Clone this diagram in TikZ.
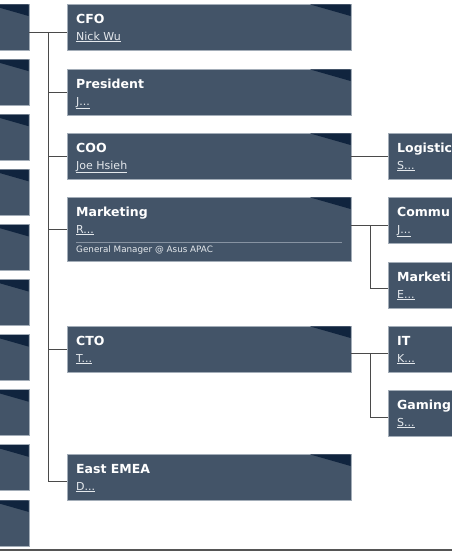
\documentclass[tikz,border=0pt]{standalone}
\usepackage{fontspec}
\setmainfont{DejaVu Sans}
\usetikzlibrary{calc}
\definecolor{boxfill}{HTML}{435468}
\definecolor{boxedge}{HTML}{A3ADB8}
\definecolor{wedgecol}{HTML}{10243E}
\definecolor{linkcol}{HTML}{4A4A4A}
\definecolor{namecol}{HTML}{E4E8EC}
\definecolor{sepcol}{HTML}{8793A2}
\definecolor{basecol}{HTML}{555555}
\tikzset{
  orgbox/.style={rectangle, draw=boxedge, fill=boxfill, line width=0.8pt, anchor=north west, inner sep=0pt, outer sep=0pt, minimum height=46pt},
  mainbox/.style={orgbox, minimum width=284pt},
  sidebox/.style={orgbox, minimum width=100pt},
  stubbox/.style={orgbox, minimum width=49pt},
  titletext/.style={anchor=base west, inner sep=0pt, text=white, font=\bfseries\fontsize{12.5}{14}\selectfont},
  nametext/.style={anchor=base west, inner sep=0pt, text=namecol, font=\fontsize{11}{13}\selectfont},
  subtext/.style={anchor=base west, inner sep=0pt, text=namecol, font=\fontsize{8.8}{10}\selectfont},
  link/.style={draw=linkcol, line width=1pt},
  sepline/.style={draw=sepcol, line width=0.8pt},
  wedgefill/.style={fill=wedgecol},
}
\newcommand\cornerwedge[1]{\fill[wedgefill] ($(#1.north east)+(-41,0.4)$) -- ($(#1.north east)+(-0.4,0.4)$) -- ($(#1.north east)+(-0.4,12)$) -- cycle;}
\newcommand\boxtexts[3]{%
  \node[titletext] (#1-t) at ($(#1.north west)+(9,19)$) {#2};
  \node[nametext] (#1-n) at ($(#1.north west)+(9,36)$) {\underline{#3}};}
\begin{document}
\begin{tikzpicture}[x=1pt, y=-1pt]
\useasboundingbox (0,0) rectangle (452,552);
\clip (0,0) rectangle (452,552);
\fill[white] (0,0) rectangle (452,552);

% left stub boxes
\foreach \i/\y in {1/4,2/59.1,3/114.2,4/169.3,5/224.4,6/279.5,7/334.6,8/389.7,9/444.8,10/499.9}{
  \node[stubbox] (L\i) at (-20,\y) {};
  \cornerwedge{L\i}
}

% main column
\node[mainbox] (cfo) at (67,4) {};
\node[mainbox] (pres) at (67,69) {};
\node[mainbox] (coo) at (67,133) {};
\node[mainbox, minimum height=64pt] (mkt) at (67,197) {};
\node[mainbox] (cto) at (67,326) {};
\node[mainbox] (east) at (67,454) {};
\foreach \n in {cfo,pres,coo,mkt,cto,east}{\cornerwedge{\n}}

% right column
\node[sidebox] (logi) at (388,133) {};
\node[sidebox] (commu) at (388,197) {};
\node[sidebox] (mkti) at (388,262) {};
\node[sidebox] (it) at (388,326) {};
\node[sidebox] (gaming) at (388,390) {};

% texts
\boxtexts{cfo}{CFO}{Nick Wu}
\boxtexts{pres}{President}{J...}
\boxtexts{coo}{COO}{Joe Hsieh}
\boxtexts{mkt}{Marketing}{R...}
\boxtexts{cto}{CTO}{T...}
\boxtexts{east}{East EMEA}{D...}
\boxtexts{logi}{Logistic}{S...}
\boxtexts{commu}{Commu}{J...}
\boxtexts{mkti}{Marketi}{E...}
\boxtexts{it}{IT}{K...}
\boxtexts{gaming}{Gaming}{S...}
\draw[sepline] ($(mkt.north west)+(9,45)$) -- ($(mkt.north east)+(-9,45)$);
\node[subtext] (mkt-s) at ($(mkt.north west)+(9,55)$) {General Manager @ Asus APAC};

% connectors left
\coordinate (jtop) at (48,32);
\coordinate (jbot) at (48,481);
\draw[link] (L1.east |- jtop) -- (cfo.west |- jtop);
\draw[link] (jtop) -- (jbot) -- (east.west |- jbot);
\draw[link] (jtop |- pres.west) -- (pres.west);
\draw[link] (jtop |- coo.west) -- (coo.west);
\draw[link] (jtop |- mkt.west) -- (mkt.west);
\draw[link] (jtop |- cto.west) -- (cto.west);

% connectors right
\draw[link] (coo.east) -- (logi.west);
\coordinate (jm1) at (370,225);
\coordinate (jm2) at (370,288);
\draw[link] (mkt.east |- jm1) -- (commu.west |- jm1);
\draw[link] (jm1) -- (jm2) -- (mkti.west |- jm2);
\coordinate (jc1) at (370,353);
\coordinate (jc2) at (370,417);
\draw[link] (cto.east |- jc1) -- (it.west |- jc1);
\draw[link] (jc1) -- (jc2) -- (gaming.west |- jc2);

% bottom rule
\draw[draw=basecol, line width=2pt] (0,549.5) -- (452,549.5);
\end{tikzpicture}
\end{document}
